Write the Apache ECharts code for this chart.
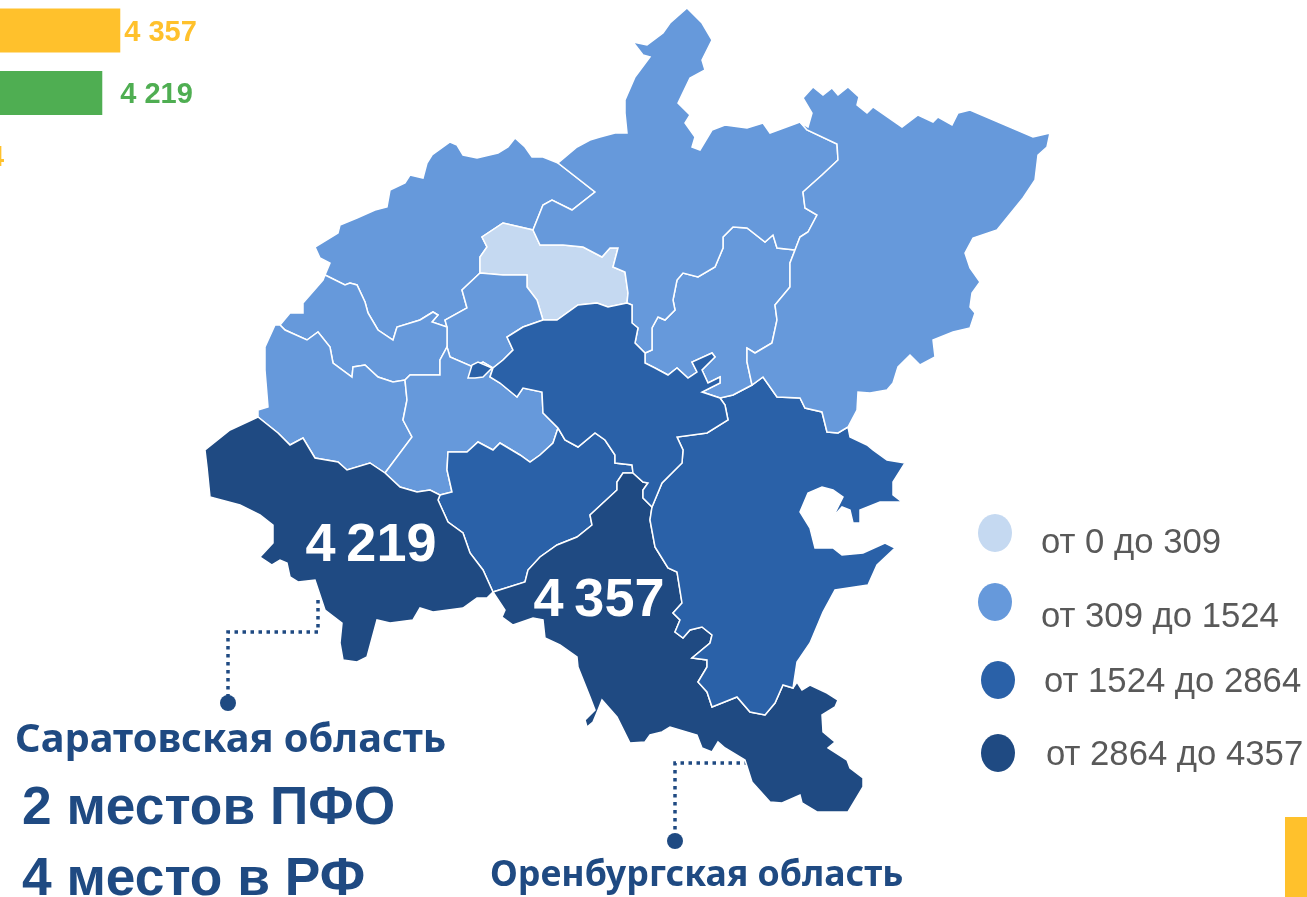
<!DOCTYPE html>
<html><head><meta charset="utf-8">
<style>html,body{margin:0;padding:0;background:#fff;overflow:hidden}#c{width:1307px;height:897px}</style>
<script src="https://cdn.jsdelivr.net/npm/echarts@6/dist/echarts.min.js"></script></head>
<body><div id="c"></div>
<script>
// ---------- data ----------
const barCategories=['Оренбургская область','Саратовская область','Третий регион'];
const barValues=[4357,4219,2864];
const barColors=['#FFC12C','#4FAE52','#FFC12C'];
const barLabelGaps=[4,18,6];
const regionNames=['Нижегородская','Марий Эл','Чувашия','Мордовия','Пензенская','Ульяновская','Самарская','Саратовская','Оренбургская','Башкортостан','Удмуртия','Кировская','Пермский край','Татарстан'];
const regionValues=[1050,250,780,640,900,1100,2100,4219,4357,2864,1000,1180,1320,2400];
const labelledRegions=['Саратовская','Оренбургская'];
const legendLabels=['от 0 до 309','от 309 до 1524','от 1524 до 2864','от 2864 до 4357'];
const bandEdges=[0,309,1524,2864,4357];
const bandColors=['#C5D9F1','#6699DB','#2A61A8','#1F4A82'];
// ---------- region outlines (shared border chains) ----------
const outerNN=[[558,163],[543,157],[532,157],[525,147],[515,138],[508,147],[498,153],[477,158],[463,155],[457,145],[450,142],[432,155],[427,163],[423,178],[410,175],[405,183],[390,190],[387,207],[375,210],[357,218],[340,225],[338,233],[315,247],[320,258],[330,263],[325,275]];
const NN_Mord=[[325,275],[345,285],[350,283],[357,285],[365,302],[368,313],[378,330],[393,340],[397,327],[420,320],[433,312],[438,315],[432,322],[447,327]];
const NN_Chu=[[447,327],[445,320],[467,308],[462,290],[480,273]];
const NN_Mari=[[480,273],[480,257],[487,247],[482,237],[503,223],[533,230]];
const NN_Kir=[[533,230],[543,205],[552,200],[572,210],[595,192],[558,163]];
const Mari_Kir=[[533,230],[540,245],[563,245],[583,247],[602,257],[610,248],[618,248],[613,267],[625,272],[628,293],[627,303]];
const Mari_Tat=[[627,303],[608,307],[597,303],[578,305],[557,320],[543,320]];
const Mari_Chu=[[543,320],[537,300],[527,287],[527,275],[503,275],[480,273]];
const Chu_Tat=[[543,320],[523,327],[507,337],[513,350],[503,360],[493,368]];
const Chu_Uly=[[493,368],[483,362],[473,367],[450,357],[447,347]];
const Chu_Mord=[[447,347],[447,327]];
const Mord_Uly=[[447,347],[440,360],[440,375],[410,375],[405,380]];
const Mord_Left=[[405,380],[393,382],[378,377],[365,365],[353,367],[352,377],[333,363],[330,347],[318,332],[307,340],[285,330],[280,325]];
const Mord_outer=[[280,325],[290,313],[303,313],[303,303],[323,280],[325,275]];
const Left_outer=[[280,325],[275,325],[265,347],[265,370],[268,407],[258,410],[258,417]];
const Left_Sar=[[258,417],[278,433],[290,445],[303,438],[315,458],[338,462],[347,470],[370,463],[385,473]];
const Left_Uly=[[385,473],[412,437],[403,420],[407,400],[405,380]];
const Uly_Tat=[[493,368],[490,377],[500,383],[517,397],[523,388],[542,392],[543,413],[558,428]];
const Uly_Sam=[[558,428],[553,443],[540,455],[530,462],[520,455],[500,443],[493,450],[478,442],[467,452],[448,452],[447,470],[452,492],[440,495]];
const Uly_Sar=[[440,495],[430,490],[417,492],[400,487],[385,473]];
const Sam_Tat=[[558,428],[565,440],[578,447],[595,433],[605,440],[615,455],[615,463],[632,465],[633,473]];
const Sam_Oren=[[633,473],[623,473],[617,482],[617,490],[590,515],[592,525],[577,537],[557,545],[540,557],[528,570],[525,582],[493,592]];
const Sam_Sar=[[493,592],[483,570],[470,553],[463,533],[448,522],[438,500],[440,495]];
const Sar_outer=[[493,592],[487,598],[477,598],[463,608],[433,612],[420,608],[413,620],[390,623],[377,620],[367,657],[357,662],[343,660],[340,643],[342,623],[325,610],[315,580],[298,582],[290,577],[287,563],[280,560],[272,565],[260,557],[273,543],[273,525],[260,515],[240,505],[210,497],[207,467],[205,450],[230,430],[258,417]];
const Tat_Kir=[[627,303],[632,305],[632,323],[638,328],[635,343],[645,353]];
const Tat_Ud=[[645,353],[645,363],[655,368],[668,375],[677,368],[688,378],[697,372],[692,362],[712,353],[715,357],[702,370],[708,383],[720,377],[720,383],[702,392],[720,398]];
const Tat_Bash=[[720,398],[725,405],[728,420],[707,433],[677,437],[683,450],[682,463],[662,483],[652,507]];
const Tat_Oren=[[652,507],[643,498],[643,490],[648,483],[643,482],[633,473]];
const Ud_Bash=[[720,398],[733,395],[752,385]];
const Ud_Perm=[[752,385],[747,362],[747,348],[755,353],[772,343],[777,320],[775,305],[790,287],[790,263],[795,250]];
const Kir_Ud=[[795,250],[777,248],[773,235],[765,242],[747,228],[733,227],[723,237],[723,248],[715,267],[698,277],[683,273],[677,280],[673,300],[675,310],[665,320],[658,317],[652,328],[652,350],[645,353]];
const Kir_Perm=[[795,250],[800,237],[808,232],[817,215],[805,208],[803,192],[822,175],[838,160],[837,144],[807,130],[800,122]];
const Kir_outer=[[800,122],[770,133],[763,123],[747,128],[725,125],[712,130],[700,150],[692,147],[695,137],[685,123],[690,115],[678,103],[690,78],[705,70],[702,60],[712,40],[702,23],[687,8],[670,23],[663,33],[647,45],[633,42],[643,55],[650,57],[635,77],[625,100],[625,113],[627,133],[615,133],[600,137],[590,140],[577,147],[558,163]];
const Perm_outer=[[800,122],[808,127],[812,113],[803,98],[813,87],[823,95],[832,88],[838,95],[848,87],[859,97],[857,105],[867,113],[873,107],[902,127],[918,115],[933,122],[938,117],[952,125],[958,113],[970,110],[1033,137],[1050,133],[1047,147],[1038,155],[1035,180],[1023,198],[997,230],[973,238],[965,253],[970,268],[980,282],[972,293],[970,307],[975,313],[970,328],[953,332],[933,340],[935,357],[920,365],[910,355],[898,367],[893,383],[887,390],[870,393],[858,392],[857,410],[848,427]];
const Perm_Bash=[[848,427],[838,433],[827,432],[822,412],[805,408],[800,398],[777,397],[763,377],[752,385]];
const Bash_outer=[[848,427],[850,437],[867,445],[873,450],[887,460],[905,463],[893,482],[893,495],[902,502],[880,502],[860,510],[860,523],[853,523],[850,510],[842,507],[833,517],[838,507],[843,497],[833,490],[822,487],[808,493],[800,512],[810,528],[815,548],[833,548],[842,555],[863,553],[885,543],[895,548],[877,565],[868,585],[835,590],[823,612],[810,643],[797,662],[793,688]];
const Oren_Bash=[[793,688],[783,685],[775,703],[765,715],[750,712],[737,697],[712,707],[707,692],[698,682],[707,667],[707,660],[692,658],[710,643],[712,635],[702,627],[690,630],[683,638],[675,632],[680,620],[673,613],[682,603],[677,572],[668,568],[660,555],[655,547],[650,520],[652,507]];
const Oren_outer=[[793,688],[797,682],[802,690],[810,685],[827,693],[838,700],[835,707],[822,715],[823,732],[835,742],[828,748],[847,760],[850,768],[863,778],[863,787],[848,812],[817,812],[802,803],[800,795],[782,803],[770,802],[752,782],[745,760],[725,748],[718,742],[712,752],[702,748],[697,735],[670,727],[662,732],[650,735],[645,742],[630,743],[617,717],[602,700],[598,710],[593,722],[587,727],[585,720],[595,710],[590,697],[578,667],[577,657],[560,645],[545,638],[543,620],[533,618],[513,625],[502,617],[505,610],[493,592]];
const Tat_exclave=[[468,378],[472,365],[478,362],[492,368],[483,377],[475,378]];
const labelPoints={'Саратовская':[371,546],'Оренбургская':[599,601]};
// ---------- build the map ----------
const rev=a=>a.slice().reverse();
const ring=(...c)=>c.flat();
const rings={
 'Нижегородская':[ring(outerNN,NN_Mord,NN_Chu,NN_Mari,NN_Kir)],
 'Марий Эл':[ring(NN_Mari,Mari_Kir,Mari_Tat,Mari_Chu)],
 'Чувашия':[ring(rev(NN_Chu),rev(Chu_Mord),rev(Chu_Uly),rev(Chu_Tat),Mari_Chu)],
 'Мордовия':[ring(NN_Mord,rev(Chu_Mord),Mord_Uly,Mord_Left,Mord_outer)],
 'Пензенская':[ring(Left_outer,Left_Sar,Left_Uly,Mord_Left)],
 'Ульяновская':[ring(rev(Chu_Uly),Uly_Tat,Uly_Sam,Uly_Sar,Left_Uly,rev(Mord_Uly))],
 'Самарская':[ring(rev(Uly_Sam),Sam_Tat,Sam_Oren,Sam_Sar)],
 'Саратовская':[ring(Left_Sar,rev(Uly_Sar),rev(Sam_Sar),Sar_outer)],
 'Оренбургская':[ring(Oren_outer,rev(Sam_Oren),rev(Tat_Oren),rev(Oren_Bash))],
 'Башкортостан':[ring(Ud_Bash,rev(Perm_Bash),Bash_outer,Oren_Bash,rev(Tat_Bash))],
 'Удмуртия':[ring(Tat_Ud,Ud_Bash,Ud_Perm,Kir_Ud)],
 'Кировская':[ring(Kir_Perm,Kir_outer,rev(NN_Kir),Mari_Kir,Tat_Kir,rev(Kir_Ud))],
 'Пермский край':[ring(Perm_outer,Perm_Bash,Ud_Perm,Kir_Perm)],
 'Татарстан':[ring(rev(Mari_Tat),Tat_Kir,Tat_Ud,Tat_Bash,Tat_Oren,rev(Sam_Tat),rev(Uly_Tat),rev(Chu_Tat)),Tat_exclave]
};
const flip=p=>[p[0],-p[1]];
const closeRing=r=>{const o=r.map(flip);o.push(o[0]);return o;};
const geoJson={type:'FeatureCollection',features:regionNames.map(n=>({type:'Feature',
 properties:Object.assign({name:n},labelPoints[n]?{cp:flip(labelPoints[n])}:{}),
 geometry:{type:'MultiPolygon',coordinates:rings[n].map(r=>[closeRing(r)])}}))};
echarts.registerMap('pfo',geoJson);
const ink='#1F4A82';
const fmtThin=v=>{const s=String(v);return s.slice(0,-3)+'\u2009'+s.slice(-3);};
const fmtSpace=v=>{const s=String(v);return s.slice(0,-3)+' '+s.slice(-3);};
const legendDots=[[995,533],[995,602],[998,680],[998,753]];
const legendTexts=[[1041,543],[1041,617],[1044,682],[1046,755]];
const text=(x,y,t,font,fill)=>({type:'text',x,y,silent:true,style:{text:t,font,fill,textVerticalAlign:'middle'}});
const dotted=pts=>({type:'polyline',silent:true,shape:{points:pts},style:{stroke:ink,lineWidth:3.5,lineDash:[3.5,4.5],fill:null}});
const dot=(cx,cy)=>({type:'circle',silent:true,shape:{cx,cy,r:8},style:{fill:ink}});
const graphics=[
 dotted([[318,600],[318,632],[228,632],[228,696]]),dot(228,703),
 dotted([[748,763],[675,763],[675,835]]),dot(675,841),
 dotted([[765,700],[765,712]]),
 text(15,741,'Саратовская область','bold 39.8px "Noto Sans"',ink),
 text(22,809,'2 местов ПФО','bold 53.3px "Liberation Sans"',ink),
 text(22,880,'4 место в РФ','bold 53.3px "Liberation Sans"',ink),
 text(490,876,'Оренбургская область','bold 35.7px "Noto Sans"',ink),
 {type:'rect',silent:true,shape:{x:1285,y:817,width:22,height:80},style:{fill:'#FFC12C'}}
];
legendLabels.forEach((t,i)=>{
 graphics.push({type:'ellipse',silent:true,shape:{cx:legendDots[i][0],cy:legendDots[i][1],rx:17,ry:19},style:{fill:bandColors[i]}});
 graphics.push(text(legendTexts[i][0],legendTexts[i][1],t,'34.7px "Liberation Sans"','#595959'));
});
const chart=echarts.init(document.getElementById('c'),null,{renderer:'canvas'});
chart.setOption({
 animation:false,backgroundColor:'#fff',
 grid:{left:-448,top:-0.75,width:1000,height:187.5,containLabel:false,outerBoundsMode:'none'},
 xAxis:{type:'value',min:0,max:7667,show:false},
 yAxis:{type:'category',data:barCategories,inverse:true,show:false},
 visualMap:{show:false,type:'piecewise',seriesIndex:1,pieces:bandColors.map((c,i)=>({min:bandEdges[i],max:bandEdges[i+1],color:c}))},
 series:[
  {type:'bar',barWidth:44,silent:true,clip:false,data:barValues.map((v,i)=>({value:v,itemStyle:{color:barColors[i]},
    label:{show:true,position:'right',distance:barLabelGaps[i],offset:[0,2],color:barColors[i],fontFamily:'Liberation Sans',fontWeight:'bold',fontSize:29,formatter:p=>fmtSpace(p.value)}}))},
  {type:'map',map:'pfo',silent:true,roam:false,left:0,top:0,width:1307,height:897,aspectScale:1,
   boundingCoords:[[0,0],[1307,-897]],
   itemStyle:{borderColor:'#fff',borderWidth:1.5},
   label:{show:false},
   data:regionNames.map((n,i)=>{const o={name:n,value:regionValues[i]};
     if(labelledRegions.includes(n))o.label={show:true,color:'#fff',fontFamily:'Liberation Sans',fontWeight:'bold',fontSize:54,formatter:p=>fmtThin(p.value)};
     return o;})}
 ],
 graphic:{elements:graphics}
});
</script></body></html>
